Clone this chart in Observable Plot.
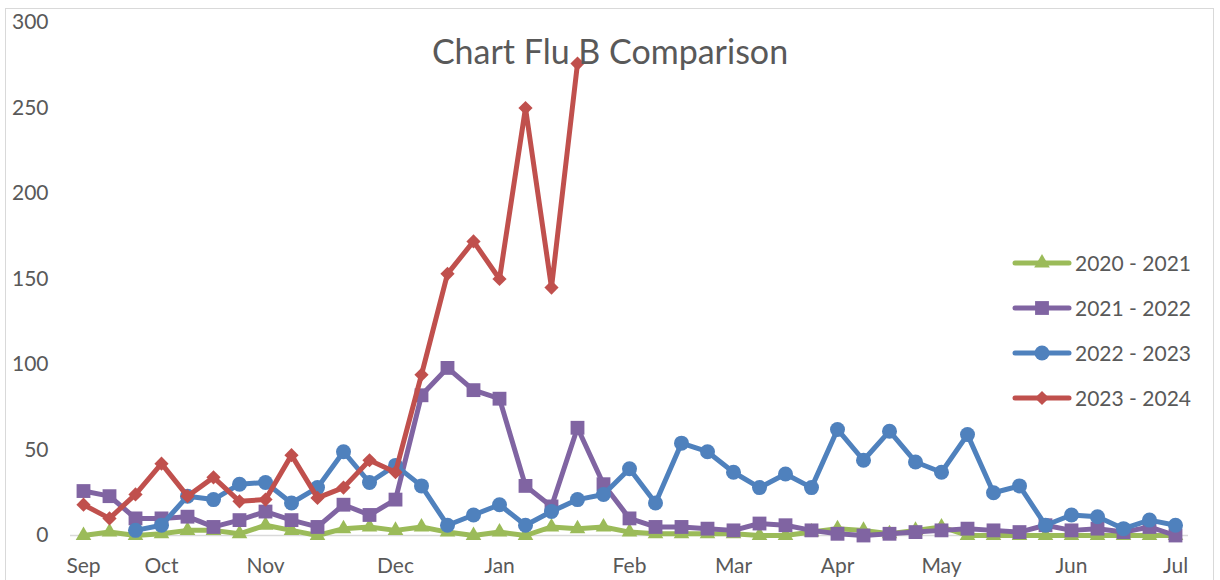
<!DOCTYPE html>
<html>
<head>
<meta charset="utf-8">
<script src="https://cdn.jsdelivr.net/npm/d3@7"></script>
<script src="https://cdn.jsdelivr.net/npm/@observablehq/plot@0.6"></script>
<style>
  html, body { margin: 0; padding: 0; background: #fff; overflow: hidden; }
  #wrap { position: relative; width: 1220px; height: 580px; font-family: Lato, "Open Sans", sans-serif; color: #595959; }
  #chart { position: absolute; left: 0; top: 0; }
  #border { position: absolute; left: 5px; top: 8px; width: 1209px; height: 620px; border: 1px solid #d9d9d9; box-sizing: border-box; pointer-events: none; }
  #title { position: absolute; left: 0; width: 1220px; top: 30px; text-align: center; font-size: 34px; line-height: 42px; }
  #legend { position: absolute; left: 1012px; top: 240px; }
  .item { display: flex; align-items: center; height: 45px; font-size: 21px; }
  .item svg { margin-right: 3px; }
</style>
</head>
<body>
<div id="wrap">
  <div id="chart"></div>
  <div id="border"></div>
  <div id="title">Chart Flu B Comparison</div>
  <div id="legend"></div>
</div>
<script>
// ---- data ----
const seasons = ["2020 - 2021", "2021 - 2022", "2022 - 2023", "2023 - 2024"];
const seasonColors = ["#9BBB59", "#8064A2", "#4F81BD", "#C0504D"];
const seasonSymbols = ["triangle", "square", "circle", "diamond2"];

const monthTickIndex = [0, 3, 7, 12, 16, 21, 25, 29, 33, 38, 42];
const monthLabels = ["Sep", "Oct", "Nov", "Dec", "Jan", "Feb", "Mar", "Apr", "May", "Jun", "Jul"];
const yTicks = [0, 50, 100, 150, 200, 250, 300];

const values2020 = [0, 2, 0, 1, 3, 3, 1, 6, 3, 0, 4, 5, 3, 5, 2, 0, 2, 0, 5, 4, 5, 2, 1, 1, 1, 1, 0, 0, 2, 4, 3, 1, 3, 5, 0, 0, 0, 0, 0, 0, 0, 0, 0];
const values2021 = [26, 23, 10, 10, 11, 5, 9, 14, 9, 5, 18, 12, 21, 82, 98, 85, 80, 29, 17, 63, 30, 10, 5, 5, 4, 3, 7, 6, 3, 1, 0, 1, 2, 3, 4, 3, 2, 6, 3, 4, 2, 5, 0];
const values2022 = [null, null, 3, 6, 23, 21, 30, 31, 19, 28, 49, 31, 41, 29, 6, 12, 18, 6, 14, 21, 24, 39, 19, 54, 49, 37, 28, 36, 28, 62, 44, 61, 43, 37, 59, 25, 29, 6, 12, 11, 4, 9, 6];
const values2023 = [18, 10, 24, 42, 23, 34, 20, 21, 47, 22, 28, 44, 37, 94, 153, 172, 150, 250, 145, 276];

const seriesValues = [values2020, values2021, values2022, values2023];

const rows = seasons.flatMap((s, k) =>
  seriesValues[k].map((v, i) => ({season: s, week: i, value: v})).filter(d => d.value != null)
);

const symbolSize = {"triangle": 5.8, "square": 7.8, "circle": 7.5, "diamond2": 6.4};

const marks = [
  Plot.ruleY([0], {stroke: "#d9d9d9", strokeWidth: 1.5})
];
seasons.forEach((s, k) => {
  const data = rows.filter(d => d.season === s);
  marks.push(Plot.line(data, {x: "week", y: "value", stroke: "season", strokeWidth: 5, strokeLinejoin: "round", strokeLinecap: "round"}));
  marks.push(Plot.dot(data, {x: "week", y: "value", fill: "season", symbol: "season", r: symbolSize[seasonSymbols[k]], stroke: "none"}));
});

const chart = Plot.plot({
  width: 1220,
  height: 580,
  marginLeft: 70,
  marginRight: 32,
  marginTop: 22,
  marginBottom: 45,
  style: {fontFamily: "Lato, 'Open Sans', sans-serif", fontSize: "21px", color: "#595959", background: "white", overflow: "visible"},
  x: {domain: [-0.5, 42.5], ticks: monthTickIndex, tickFormat: i => monthLabels[monthTickIndex.indexOf(i)], tickSize: 0, tickPadding: 23, label: null},
  y: {domain: [0, 300], ticks: yTicks, tickSize: 0, tickPadding: 22, label: null},
  color: {domain: seasons, range: seasonColors},
  symbol: {domain: seasons, range: seasonSymbols},
  marks
});
document.getElementById("chart").appendChild(chart);

// legend
const legend = d3.select("#legend");
seasons.forEach((s, k) => {
  const item = legend.append("div").attr("class", "item");
  const svg = item.append("svg").attr("width", 60).attr("height", 24);
  svg.append("line").attr("x1", 3).attr("x2", 57).attr("y1", 12).attr("y2", 12)
    .attr("stroke", seasonColors[k]).attr("stroke-width", 5).attr("stroke-linecap", "round");
  const sym = {triangle: d3.symbolTriangle, square: d3.symbolSquare, circle: d3.symbolCircle, diamond2: d3.symbolDiamond2}[seasonSymbols[k]];
  const r = symbolSize[seasonSymbols[k]];
  svg.append("path").attr("d", d3.symbol(sym, Math.PI * r * r)()).attr("transform", "translate(30,12)")
    .attr("fill", seasonColors[k]);
  item.append("span").text(s);
});
</script>
</body>
</html>
